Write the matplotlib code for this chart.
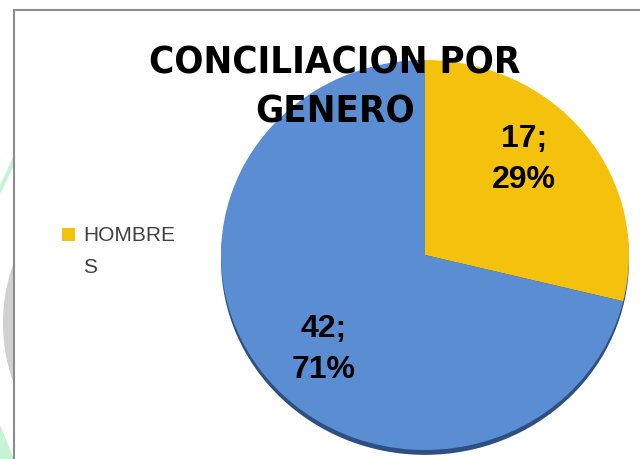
import matplotlib.pyplot as plt
import matplotlib.patches as mpatches

# data
labels = ['HOMBRES', 'MUJERES']
values = [17, 42]
colors = ['#F4C20D', '#5B8DD3']
title = 'CONCILIACION POR\nGENERO'
legend_label = 'HOMBRE\nS'

W, H = 640, 459
fig = plt.figure(figsize=(W / 100, H / 100), dpi=100)


def px(x, y):
    # pixel (from top-left) -> figure fraction
    return x / W, 1 - y / H


# slide decorations behind the chart box
deco = mpatches.Ellipse(px(178, 323), 350 / W, 350 / H, transform=fig.transFigure,
                        facecolor='#d0d0d0', edgecolor='none', zorder=-3)
fig.patches.append(deco)
fig.lines.append(plt.Line2D([0, 14 / W], [1 - 190 / H, 1 - 160 / H],
                            transform=fig.transFigure, color='#c6f2d6',
                            lw=3, zorder=-3))
fig.patches.append(mpatches.Polygon([px(0, 425), px(0, 459), px(14, 459)], closed=True,
                                    transform=fig.transFigure, facecolor='#c6f2d6',
                                    edgecolor='none', zorder=-3))

# chart area box
box = mpatches.Rectangle(px(14, 470), (640 - 14 + 20) / W, (470 - 10) / H,
                         transform=fig.transFigure, facecolor='white',
                         edgecolor='#8c8c8c', lw=1.5, zorder=-2)
fig.patches.append(box)

# pie axes: slightly flattened ellipse
left, right, top, bottom = 221, 629, 60, 450
ax = fig.add_axes([left / W, 1 - bottom / H, (right - left) / W, (bottom - top) / H])
ax.patch.set_visible(False)

shadow = mpatches.Ellipse((0, -0.025), 2.0, 2.0, facecolor='#2d4f82',
                          edgecolor='none', zorder=0, clip_on=False)
ax.add_patch(shadow)


def fmt(p):
    v = round(p * sum(values) / 100)
    return f'{v};\n{p:.0f}%'


wedges, texts, autotexts = ax.pie(values, colors=colors, startangle=90,
                                  counterclock=False, autopct=fmt,
                                  wedgeprops=dict(linewidth=0),
                                  textprops=dict(fontsize=23, fontweight='bold',
                                                 family='Liberation Sans',
                                                 color='black', linespacing=1.45))
ax.set_aspect('auto')
ax.set_xlim(-1, 1)
ax.set_ylim(-1, 1)
ax.axis('off')
for w in wedges:
    w.set_zorder(1)
# label placement as in the original chart
autotexts[0].set_position((0.485, 0.49))
autotexts[1].set_position((-0.495, -0.485))

fig.text(335 / W, 1 - 88 / H, title, ha='center', va='center',
         fontsize=27.5, fontweight='bold', family='DejaVu Sans', fontstretch='condensed',
         linespacing=1.45, color='black', zorder=5)

# legend (only one entry visible in the original)
fig.patches.append(mpatches.Rectangle(px(62, 241), 13 / W, 13 / H,
                                      transform=fig.transFigure,
                                      facecolor=colors[0], edgecolor='none'))
fig.text(83 / W, 1 - 226 / H, legend_label, ha='left', va='top',
         family='Liberation Sans', fontsize=15, color='#404040', linespacing=1.85)

fig.savefig('out.png', dpi=100)
